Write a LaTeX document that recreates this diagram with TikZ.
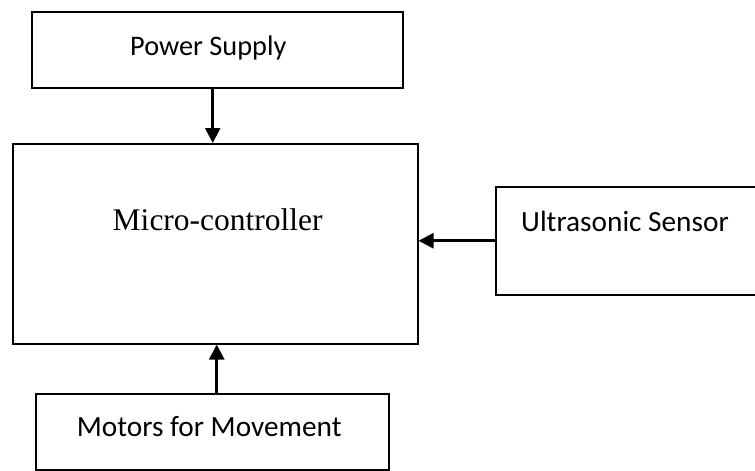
\documentclass[tikz,border=0pt]{standalone}
\usepackage{fontspec}
\setmainfont{Carlito}
\newfontfamily\timesfont{Liberation Serif}
\usetikzlibrary{arrows.meta}
\begin{document}
\begin{tikzpicture}[x=1pt,y=-1pt,
  box/.style={draw=black, line width=1.5pt, rectangle, inner sep=0pt, anchor=north west},
  lbl/.style={anchor=base, inner sep=0pt, font=\fontsize{29.3}{35}\selectfont},
  conn/.style={line width=2.6pt, -{Triangle[length=15pt,width=15pt]}}]
\useasboundingbox[fill=white] (0,0) rectangle (755,471);
\clip (0,0) rectangle (755,471);
\node[box, minimum width=371pt, minimum height=76pt] (ps) at (31,11) {};
\node[box, minimum width=405pt, minimum height=200pt] (mc) at (12,143) {};
\node[box, minimum width=270pt, minimum height=108pt] (us) at (495,186) {};
\node[box, minimum width=353pt, minimum height=76pt] (mo) at (35,393) {};
\node[anchor=base, inner sep=0pt, font=\fontsize{28.3}{34}\selectfont] (tps) at (208.3,55) {Power Supply};
\node[anchor=base, inner sep=0pt, font=\timesfont\fontsize{31.5}{38}\selectfont] (tmc) at (217.7,230) {Micro-controller};
\node[lbl] (tus) at (625,231) {Ultrasonic Sensor};
\node[lbl] (tmo) at (209.2,436) {Motors for Movement};
\draw[conn] ([xshift=-4.5pt]ps.south) -- ([xshift=-4.5pt]ps.south |- mc.north);
\draw[conn] (us.west) -- (us.west -| mc.east);
\draw[conn] ([xshift=4.5pt]mo.north) -- ([xshift=4.5pt]mo.north |- mc.south);
\end{tikzpicture}
\end{document}
